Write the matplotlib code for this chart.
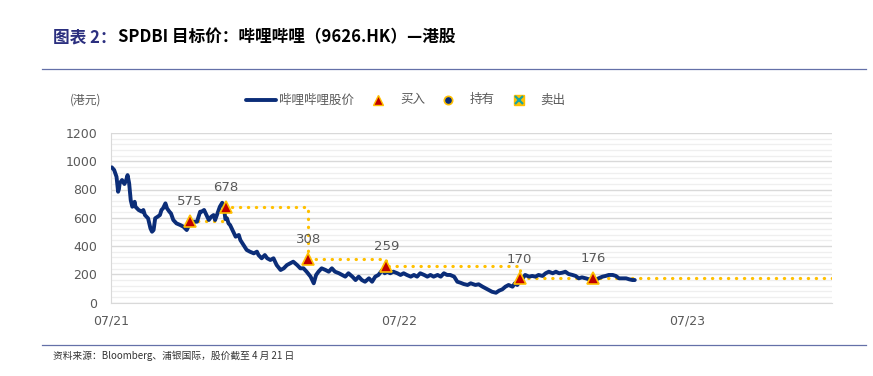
import datetime as dt
import matplotlib
matplotlib.use("Agg")
import matplotlib.pyplot as plt
import matplotlib.dates as mdates
from matplotlib.lines import Line2D

plt.rcParams['font.family'] = ['Noto Sans CJK SC', 'DejaVu Sans']

# ---------------- data ----------------
start_date = dt.date(2021, 7, 1)
end_date = dt.date(2024, 1, 1)

price_days = [1, 4, 7, 9, 10, 11, 14, 17, 19, 21, 23, 25, 27, 30, 31, 35, 39, 41, 43, 47,
              50, 52, 54, 56, 59, 62, 64, 66, 69, 71, 74, 76, 79, 83, 88, 92, 96, 98, 100, 104,
              109, 113, 115, 118, 121, 124, 127, 130, 132, 135, 138, 141, 143, 145, 147, 149, 151, 155, 158, 162,
              164, 168, 172, 176, 181, 185, 187, 191, 195, 198, 202, 206, 210, 215, 219, 223, 227, 231, 236, 240,
              244, 248, 253, 257, 260, 263, 267, 272, 276, 280, 284, 289, 293, 297, 301, 306, 310, 314, 318, 322,
              327, 331, 335, 339, 344, 347, 350, 354, 358, 363, 367, 371, 375, 380, 384, 388, 392, 397, 401, 405,
              409, 414, 418, 422, 426, 430, 435, 439, 443, 447, 452, 456, 462, 466, 471, 475, 479, 483, 488, 492,
              496, 500, 504, 509, 512, 515, 518, 521, 525, 530, 534, 538, 542, 547, 551, 555, 560, 564, 568, 572,
              576, 580, 585, 589, 593, 597, 602, 606, 610, 614, 618, 623, 627, 631, 636, 640, 644, 648, 653, 657,
              661, 664]
price_values = [957, 938, 890, 784, 801, 844, 867, 839, 862, 902, 844, 725, 678, 713, 678, 655, 643, 655, 619, 596,
                525, 501, 513, 596, 607, 619, 655, 667, 702, 667, 643, 631, 584, 560, 548, 536, 513, 536, 560, 572,
                572, 643, 643, 655, 619, 584, 607, 619, 584, 631, 678, 706, 678, 590, 596, 560, 548, 501, 466, 478,
                442, 407, 372, 360, 348, 360, 336, 313, 336, 313, 301, 313, 265, 230, 242, 265, 277, 289, 265, 242,
                242, 218, 183, 136, 195, 218, 242, 230, 218, 242, 218, 207, 195, 183, 207, 183, 159, 183, 159, 147,
                171, 147, 183, 195, 230, 207, 218, 207, 218, 207, 195, 207, 195, 183, 195, 183, 207, 195, 183, 195,
                183, 195, 183, 207, 195, 195, 183, 147, 140, 131, 124, 136, 124, 129, 112, 100, 88, 76, 69, 84,
                93, 112, 124, 112, 136, 124, 147, 164, 195, 183, 188, 183, 195, 188, 207, 218, 207, 218, 207, 211,
                218, 202, 195, 188, 171, 178, 171, 164, 171, 159, 171, 183, 188, 195, 195, 188, 171, 171, 171, 164,
                159, 159]

buy_days = [100, 146, 250, 349, 518, 611]
target_prices = [575, 678, 308, 259, 170, 176]

y_ticks = [0, 200, 400, 600, 800, 1000, 1200]
x_tick_dates = [dt.date(2021, 7, 1), dt.date(2022, 7, 1), dt.date(2023, 7, 1)]

title_part1 = "图表 2："
title_part2 = "SPDBI 目标价：哔哩哔哩（9626.HK）—港股"
unit_label = "(港元)"
legend_labels = ["哔哩哔哩股价", "买入", "持有", "卖出"]
source_text = "资料来源：Bloomberg、浦银国际，股价截至 4 月 21 日"

# ---------------- styles ----------------
NAVY = "#0B2D78"
GOLD = "#FFC000"
RED = "#C00000"
GREY = "#595959"
TEAL = "#1AA3A3"

W, H = 873, 376
fig = plt.figure(figsize=(W / 100, H / 100), dpi=100)

ax = fig.add_axes([111 / W, 1 - 302.5 / H, (832 - 111) / W, (302.5 - 133) / H])

price_dates = [start_date + dt.timedelta(days=d) for d in price_days]
buy_dates = [start_date + dt.timedelta(days=d) for d in buy_days]

# grid
for v in range(0, 1201, 40):
    if v % 200 == 0:
        ax.axhline(v, color="#D9D9D9", lw=1.0, zorder=0)
    else:
        ax.axhline(v, color="#EFEFEF", lw=0.9, zorder=0)

# target price step line
step_x = buy_dates + [end_date]
step_y = target_prices + [target_prices[-1]]
ax.step(step_x, step_y, where="post", color=GOLD, lw=2.3,
        linestyle=(0, (0.1, 2.4)), dash_capstyle="round", zorder=2)

# price line
ax.plot(price_dates, price_values, color=NAVY, lw=2.8, solid_joinstyle="round",
        solid_capstyle="round", zorder=3)

# buy markers
ax.plot(buy_dates, target_prices, linestyle="none", marker="^", markersize=8.5,
        markerfacecolor=RED, markeredgecolor=GOLD, markeredgewidth=1.2, zorder=4)

for d, v in zip(buy_dates, target_prices):
    ax.annotate(str(v), xy=(d, v), xytext=(0, 14), textcoords="offset points",
                ha="center", va="center", fontsize=9.5, color=GREY,
                family=["DejaVu Sans"], zorder=5)

ax.set_xlim(start_date, end_date)
ax.set_ylim(0, 1200)
ax.set_yticks(y_ticks)
ax.set_xticks(x_tick_dates)
ax.xaxis.set_major_formatter(mdates.DateFormatter("%m/%y"))
ax.tick_params(axis="both", length=0, labelsize=9, labelcolor=GREY)
ax.tick_params(axis="y", pad=10)
ax.tick_params(axis="x", pad=9)
for lbl in ax.get_xticklabels() + ax.get_yticklabels():
    lbl.set_family(["DejaVu Sans"])

for s in ["top", "right"]:
    ax.spines[s].set_visible(False)
ax.spines["left"].set_color("#D9D9D9")
ax.spines["bottom"].set_color("#D9D9D9")
ax.set_facecolor("none")

# ---------------- header / footer ----------------
t1 = fig.text(53 / W, 1 - 37 / H, title_part1, fontsize=12, fontweight="bold",
              color="#2B2F7F", ha="left", va="center")
fig.canvas.draw()
bb = t1.get_window_extent()
fig.text(bb.x1 / W + 2 / W, 1 - 37 / H, title_part2, fontsize=12, fontweight="bold",
         color="black", ha="left", va="center")

fig.add_artist(Line2D([42 / W, 866 / W], [1 - 69 / H, 1 - 69 / H], color="#6470A8", lw=0.9))
fig.add_artist(Line2D([42 / W, 866 / W], [1 - 345 / H, 1 - 345 / H], color="#6470A8", lw=0.9))

fig.text(53 / W, 1 - 356 / H, source_text, fontsize=7, color="#333333",
         ha="left", va="center")

fig.text(70 / W, 1 - 100 / H, unit_label, fontsize=8.5, color=GREY, ha="left", va="center")

# legend (manual)
ly = 1 - 100 / H
fig.add_artist(Line2D([246 / W, 276 / W], [ly, ly], color=NAVY, lw=2.8, solid_capstyle="round"))
fig.text(279 / W, ly, legend_labels[0], fontsize=9, color=GREY, ha="left", va="center")
fig.add_artist(Line2D([378 / W], [ly], marker="^", markersize=7, markerfacecolor=RED,
                      markeredgecolor=GOLD, markeredgewidth=1.0, linestyle="none"))
fig.text(400 / W, ly, legend_labels[1], fontsize=9, color=GREY, ha="left", va="center")
fig.add_artist(Line2D([448 / W], [ly], marker="o", markersize=6, markerfacecolor=NAVY,
                      markeredgecolor=GOLD, markeredgewidth=1.2, linestyle="none"))
fig.text(470 / W, ly, legend_labels[2], fontsize=9, color=GREY, ha="left", va="center")
fig.add_artist(Line2D([519 / W], [ly], marker="s", markersize=7, markerfacecolor=GOLD,
                      markeredgecolor=GOLD, linestyle="none"))
fig.add_artist(Line2D([519 / W], [ly], marker="x", markersize=6, markeredgecolor=TEAL,
                      markeredgewidth=1.6, linestyle="none"))
fig.text(540 / W, ly, legend_labels[3], fontsize=9, color=GREY, ha="left", va="center")

fig.savefig("out.png", dpi=100)
